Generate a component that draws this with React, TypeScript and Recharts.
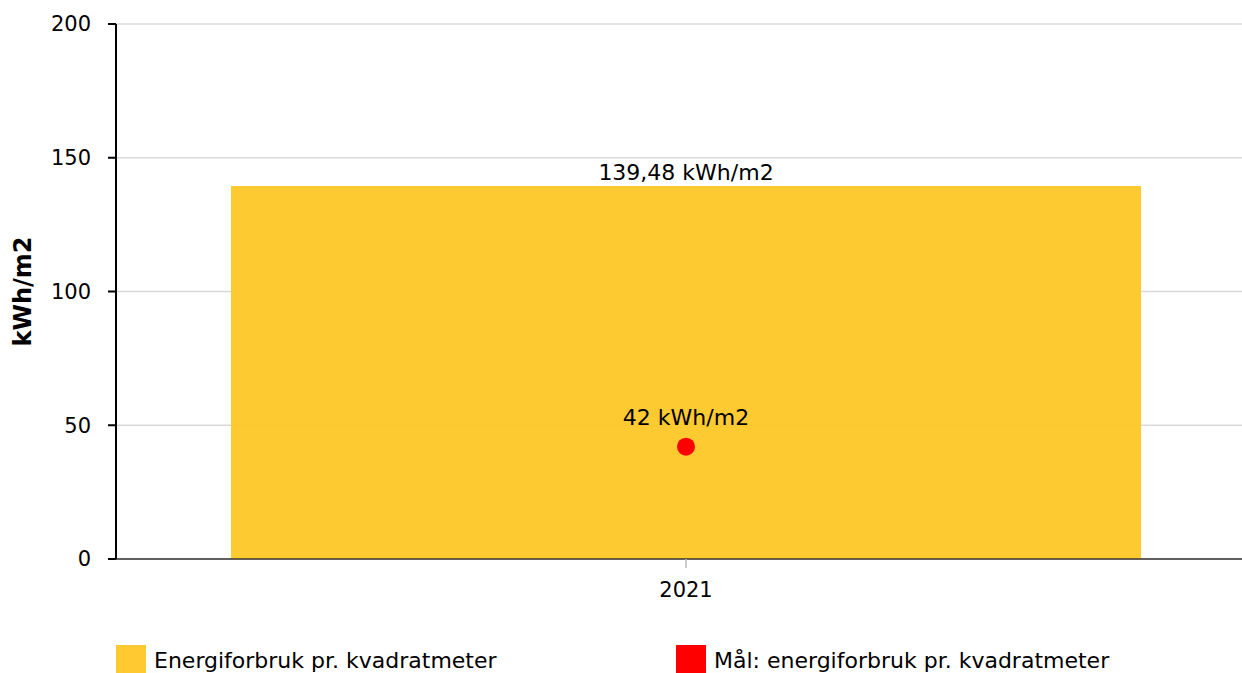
import { Bar, CartesianGrid, ComposedChart, LabelList, Line, XAxis, YAxis } from 'recharts'

const years = ['2021']
const energyUse = [139.48]
const target = [42]
const ticks = [0, 50, 100, 150, 200]

const ENERGY_NAME = 'Energiforbruk pr. kvadratmeter'
const TARGET_NAME = 'Mål: energiforbruk pr. kvadratmeter'
const FONT = 'Verdana, "DejaVu Sans", sans-serif'

const data = years.map((year, i) => ({ year, energy: energyUse[i], target: target[i] }))

const fmt = (v: any) => `${String(v).replace('.', ',')} kWh/m2`

const YLabel = (props: any) => {
  const vb = props.viewBox || {}
  const cx = 23
  const cy = vb.y + vb.height / 2
  return (
    <text
      x={cx}
      y={cy}
      transform={`rotate(-90, ${cx}, ${cy})`}
      textAnchor="middle"
      dominantBaseline="central"
      fontFamily={FONT}
      fontSize={24}
      fontWeight="bold"
      fill="#000"
    >
      kWh/m2
    </text>
  )
}

export default function App() {
  return (
    <div
      style={{
        position: 'absolute',
        left: 0,
        top: 0,
        width: 1242,
        height: 673,
        overflow: 'hidden',
        background: '#fff',
        fontFamily: FONT,
      }}
    >
      <ComposedChart
        width={1256}
        height={700}
        data={data}
        margin={{ top: 24, right: 0, left: 0, bottom: 101 }}
      >
        <CartesianGrid vertical={false} stroke="#d9d9d9" strokeWidth={1.5} />
        <XAxis
          dataKey="year"
          height={40}
          tickSize={9}
          tickMargin={14}
          tick={{ fill: '#000', fontSize: 21, fontFamily: FONT }}
          tickLine={{ stroke: '#bbb', strokeWidth: 1.5 }}
          axisLine={{ stroke: '#333', strokeWidth: 1.5 }}
        />
        <YAxis
          width={116}
          domain={[0, 200]}
          ticks={ticks}
          tickSize={8}
          tickMargin={17}
          tick={{ fill: '#000', fontSize: 21, fontFamily: FONT }}
          tickLine={{ stroke: '#000', strokeWidth: 2 }}
          axisLine={{ stroke: '#000', strokeWidth: 2 }}
          label={<YLabel />}
        />
        <Bar
          dataKey="energy"
          name={ENERGY_NAME}
          fill="#fec726"
          fillOpacity={0.95}
          barSize={910}
          isAnimationActive={false}
        >
          <LabelList
            dataKey="energy"
            position="top"
            offset={6}
            formatter={fmt}
            style={{ fill: '#000', fontSize: 22, fontFamily: FONT }}
          />
        </Bar>
        <Line
          dataKey="target"
          name={TARGET_NAME}
          stroke="none"
          dot={{ r: 9, fill: '#ff0000', stroke: 'none' }}
          activeDot={false}
          isAnimationActive={false}
        >
          <LabelList
            dataKey="target"
            position="top"
            offset={22}
            formatter={fmt}
            style={{ fill: '#000', fontSize: 22, fontFamily: FONT }}
          />
        </Line>
      </ComposedChart>
      {[
        { name: ENERGY_NAME, color: '#fec931', left: 116 },
        { name: TARGET_NAME, color: '#ff0000', left: 676 },
      ].map((item) => (
        <div
          key={item.name}
          style={{
            position: 'absolute',
            left: item.left,
            top: 645,
            display: 'flex',
            alignItems: 'flex-start',
            fontSize: 22,
            color: '#000',
            whiteSpace: 'nowrap',
          }}
        >
          <span style={{ width: 30, height: 30, background: item.color, marginRight: 8 }} />
          <span style={{ lineHeight: '30px', marginTop: 1 }}>{item.name}</span>
        </div>
      ))}
    </div>
  )
}
